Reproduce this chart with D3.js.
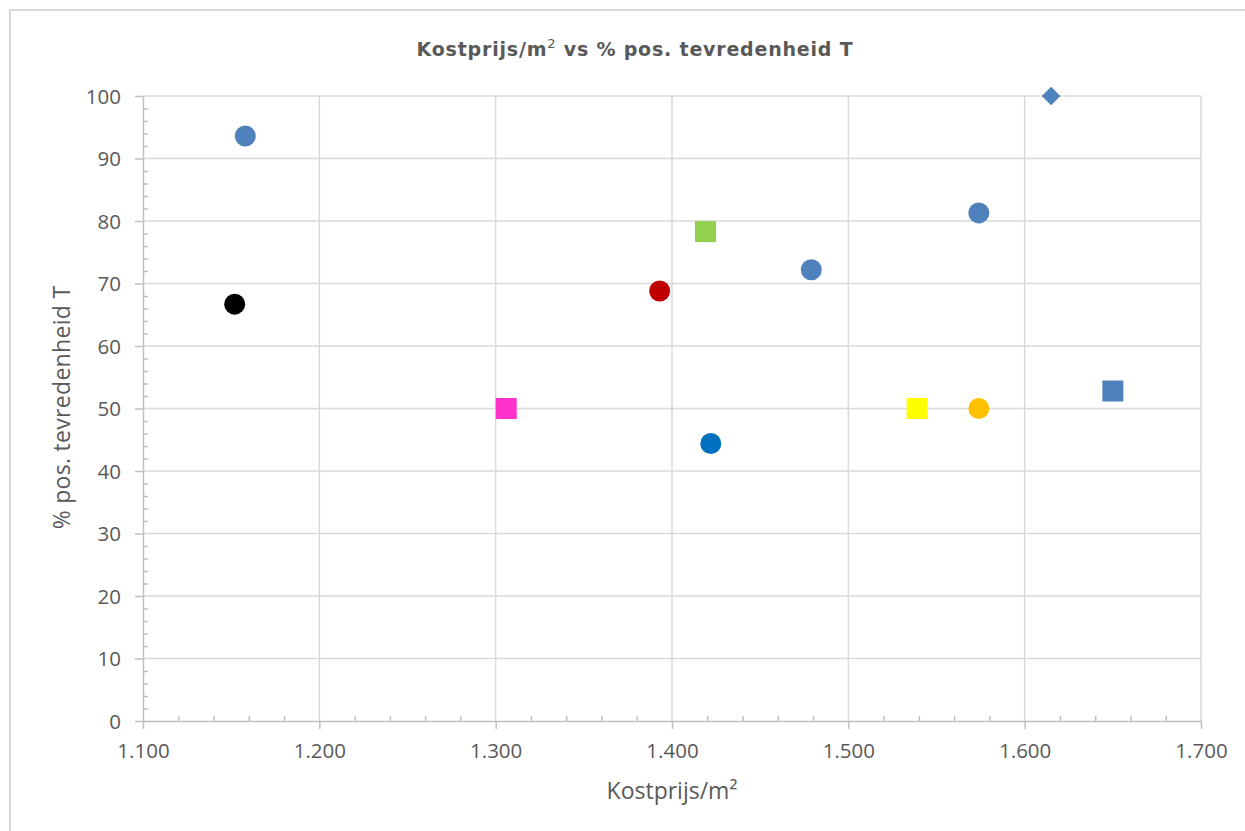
<!DOCTYPE html>
<html>
<head>
<meta charset="utf-8">
<script src="https://cdn.jsdelivr.net/npm/d3@7"></script>
<style>
  html, body { margin: 0; padding: 0; background: #fff; }
  svg { display: block; }
</style>
</head>
<body>
<svg id="chart" width="1245" height="831"></svg>
<script>
// Kostprijs per m² (euro) against share of positive satisfaction (%)
const costPerM2 = [1158, 1152, 1306, 1393, 1419, 1422, 1479, 1539, 1574, 1574, 1615, 1650];
const satisfaction = [93.6, 66.7, 50, 68.8, 78.3, 44.4, 72.2, 50, 50, 81.3, 100, 52.8];
const markerShapes = ["circle", "circle", "square", "circle", "square", "circle", "circle", "square", "circle", "circle", "diamond", "square"];
const markerColors = ["#4f81bd", "#000000", "#ff33cc", "#c00000", "#92d050", "#0070c0", "#4f81bd", "#ffff00", "#ffc000", "#4f81bd", "#4f81bd", "#4f81bd"];

const xTicks = [1100, 1200, 1300, 1400, 1500, 1600, 1700];
const yTicks = [0, 10, 20, 30, 40, 50, 60, 70, 80, 90, 100];

const chartTitle = "Kostprijs/m";
const chartTitleTail = " vs % pos. tevredenheid T";
const xTitle = "Kostprijs/m²";
const yTitle = "% pos. tevredenheid T";

const nl = d3.formatLocale({ decimal: ",", thousands: ".", grouping: [3], currency: ["€", ""] });
const fmtX = nl.format(",.0f");

const svg = d3.select("#chart");
const W = 1245, H = 831;
const m = { left: 143, right: 1201, top: 96, bottom: 721 };

const x = d3.scaleLinear().domain([1100, 1700]).range([m.left, m.right]);
const y = d3.scaleLinear().domain([0, 100]).range([m.bottom, m.top]);

// chart frame
svg.append("rect")
  .attr("x", 10).attr("y", 10).attr("width", W).attr("height", H)
  .attr("fill", "#fff").attr("stroke", "#d9d9d9").attr("stroke-width", 2);

// gridlines
const grid = svg.append("g").attr("stroke", "#d9d9d9").attr("stroke-width", 1.5);
grid.selectAll(".gy").data(yTicks.filter(d => d > 0)).join("line")
  .attr("x1", m.left).attr("x2", m.right)
  .attr("y1", d => y(d)).attr("y2", d => y(d));
grid.selectAll(".gx").data(xTicks.filter(d => d > 1100)).join("line")
  .attr("y1", m.top).attr("y2", m.bottom)
  .attr("x1", d => x(d)).attr("x2", d => x(d));

// axes
const axisColor = "#bfbfbf";
const labelFont = "'Open Sans', Lato, sans-serif";

const yAxis = svg.append("g").attr("transform", `translate(${m.left},0)`)
  .call(d3.axisLeft(y).tickValues(yTicks).tickSize(8).tickSizeOuter(0).tickPadding(14));
const yMinor = svg.append("g").attr("transform", `translate(${m.left},0)`)
  .call(d3.axisRight(y).tickValues(d3.range(0, 101, 2).filter(d => d % 10 !== 0)).tickSize(5).tickFormat(""));
yMinor.select(".domain").remove();

const xAxis = svg.append("g").attr("transform", `translate(0,${m.bottom})`)
  .call(d3.axisBottom(x).tickValues(xTicks).tickFormat(fmtX).tickSize(8).tickSizeOuter(0).tickPadding(14));
const xMinor = svg.append("g").attr("transform", `translate(0,${m.bottom})`)
  .call(d3.axisTop(x).tickValues(d3.range(1100, 1701, 20).filter(d => d % 100 !== 0)).tickSize(5).tickFormat(""));
xMinor.select(".domain").remove();

[yAxis, yMinor, xAxis, xMinor].forEach(g => {
  g.selectAll("path.domain").attr("stroke", axisColor).attr("stroke-width", 1.5);
  g.selectAll(".tick line").attr("stroke", axisColor).attr("stroke-width", 1.5);
  g.selectAll(".tick text").attr("fill", "#595959").attr("font-family", labelFont).attr("font-size", 20.5);
});
yAxis.selectAll(".tick text").attr("dy", "0.35em");
xAxis.selectAll(".tick text").attr("dy", "0.72em");

// markers
const symbolFor = { circle: d3.symbolCircle, square: d3.symbolSquare, diamond: d3.symbolDiamond2 };
const sizeFor = { circle: Math.PI * 10.5 * 10.5, square: 21 * 21, diamond: 2 * 10.5 * 10.5 };
const points = costPerM2.map((c, i) => ({ c, s: satisfaction[i], shape: markerShapes[i], color: markerColors[i] }));
svg.append("g").selectAll("path").data(points).join("path")
  .attr("transform", d => `translate(${x(d.c)},${y(d.s)})`)
  .attr("d", d => d3.symbol(symbolFor[d.shape], sizeFor[d.shape])())
  .attr("fill", d => d.color);

// titles
const title = svg.append("text")
  .attr("x", 635).attr("y", 56).attr("text-anchor", "middle")
  .attr("font-family", "'DejaVu Sans', Verdana, sans-serif").attr("font-weight", "bold")
  .attr("font-size", 19).attr("letter-spacing", 0.8).attr("fill", "#595959");
title.append("tspan").text(chartTitle);
title.append("tspan").attr("font-size", 13).attr("dy", -8).attr("font-weight", "normal").text("2");
title.append("tspan").attr("dy", 8).text(chartTitleTail);

svg.append("text")
  .attr("x", 672).attr("y", 799).attr("text-anchor", "middle")
  .attr("font-family", labelFont).attr("font-size", 23).attr("fill", "#595959")
  .text(xTitle);

svg.append("text")
  .attr("transform", `translate(70,${(m.top + m.bottom) / 2 - 1}) rotate(-90)`)
  .attr("text-anchor", "middle")
  .attr("font-family", labelFont).attr("font-size", 23).attr("letter-spacing", 0.3).attr("fill", "#595959")
  .text(yTitle);
</script>
</body>
</html>
